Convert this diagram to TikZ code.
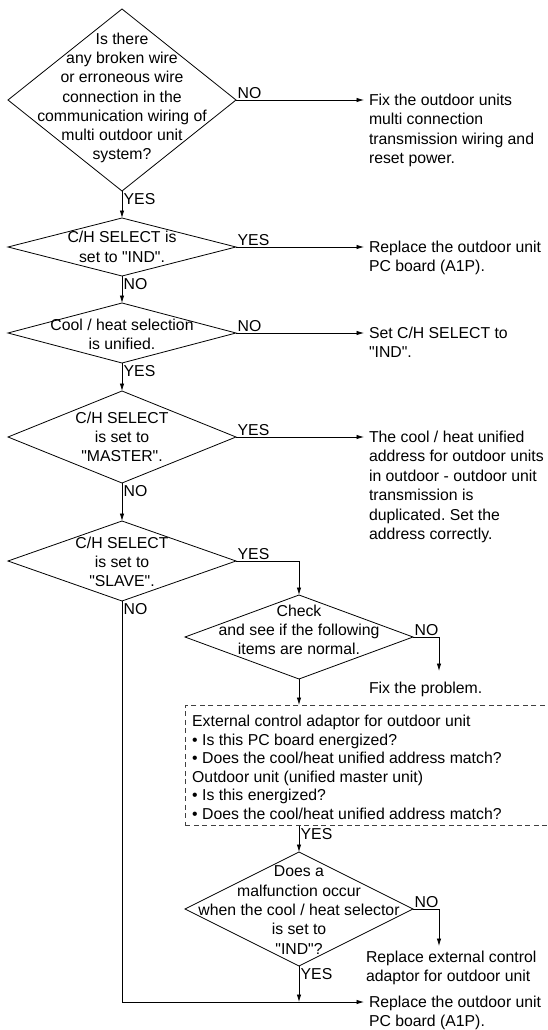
\documentclass[tikz,border=0pt]{standalone}
\usepackage{fontspec}
\setmainfont{Liberation Sans}[Ligatures=TeXOff]
\usetikzlibrary{shapes.geometric,arrows.meta}
\begin{document}
\frenchspacing
\begin{tikzpicture}[x=1pt,y=-1pt,
  every node/.style={font=\fontsize{15.8}{19.5}\selectfont},
  dia/.style={shape=diamond,draw,line width=0.8pt,inner sep=0pt,outer sep=0pt},
  dtext/.style={align=center,inner sep=0pt,font=\fontsize{15.8}{19.3}\selectfont},
  rtext/.style={align=left,anchor=north west,inner sep=0pt,outer xsep=5pt,outer ysep=0pt},
  lab/.style={inner sep=1.5pt},
  conn/.style={line width=0.8pt},
  arr/.style={conn,-{Latex[length=7.5pt,width=4.5pt]}},
  dbox/.style={draw=black!75,line width=0.8pt,dash pattern=on 5pt off 3.5pt,inner sep=0pt,anchor=north west}
]
\useasboundingbox (0,0) rectangle (547,1030);
\clip (0,0) rectangle (547,1030);
% D1
\node[dia,minimum width=228pt,minimum height=182pt] (d1) at (122,100) {};
\node[dtext] (d1t) at (122,98) {Is there\\any broken wire\\or erroneous wire\\connection in the\\communication wiring of\\multi outdoor unit\\system?};
\node[lab,anchor=south west] (l1e) at (d1.east) {NO};
\node[rtext] (r1) at (364,94) {Fix the outdoor units\\multi connection\\transmission wiring and\\reset power.};
\draw[arr] (d1.east) -- (d1.east -| r1.west);
\node[lab,anchor=north west] (l1s) at ([yshift=-1pt]d1.south) {YES};
% D2
\node[dia,minimum width=228pt,minimum height=58pt] (d2) at (122,247) {};
\node[dtext] (d2t) at (122,247) {C/H SELECT is\\set to "IND".};
\draw[arr] (d1.south) -- (d2.north);
\node[lab,anchor=south west] (l2e) at (d2.east) {YES};
\node[rtext] (r2) at (364,241) {Replace the outdoor unit\\PC board (A1P).};
\draw[arr] (d2.east) -- (d2.east -| r2.west);
\node[lab,anchor=north west] (l2s) at ([yshift=-1pt]d2.south) {NO};
% D3
\node[dia,minimum width=228pt,minimum height=60pt] (d3) at (122,333) {};
\node[dtext] (d3t) at (122,334) {Cool / heat selection\\is unified.};
\draw[arr] (d2.south) -- (d3.north);
\node[lab,anchor=south west] (l3e) at (d3.east) {NO};
\node[rtext] (r3) at (364,327) {Set C/H SELECT to\\"IND".};
\draw[arr] (d3.east) -- (d3.east -| r3.west);
\node[lab,anchor=north west] (l3s) at ([yshift=-1pt]d3.south) {YES};
% D4
\node[dia,minimum width=228pt,minimum height=92pt] (d4) at (122,437) {};
\node[dtext] (d4t) at (122,437) {C/H SELECT\\is set to\\"MASTER".};
\draw[arr] (d3.south) -- (d4.north);
\node[lab,anchor=south west] (l4e) at (d4.east) {YES};
\node[rtext] (r4) at (364,431) {The cool / heat unified\\address for outdoor units\\in outdoor - outdoor unit\\transmission is\\duplicated. Set the\\address correctly.};
\draw[arr] (d4.east) -- (d4.east -| r4.west);
\node[lab,anchor=north west] (l4s) at ([yshift=-1pt]d4.south) {NO};
% D5
\node[dia,minimum width=228pt,minimum height=80pt] (d5) at (122,561) {};
\node[dtext] (d5t) at (122,562) {C/H SELECT\\is set to\\"SLAVE".};
\draw[arr] (d4.south) -- (d5.north);
\node[lab,anchor=south west] (l5e) at (d5.east) {YES};
\node[lab,anchor=north west] (l5s) at ([yshift=-1pt]d5.south) {NO};
% D6
\node[dia,minimum width=228pt,minimum height=84pt] (d6) at (299,637) {};
\node[dtext] (d6t) at (299,630) {Check\\and see if the following\\items are normal.};
\draw[arr] (d5.east) -| (d6.north);
\node[lab,anchor=south west] (l6e) at (d6.east) {NO};
\coordinate (c6) at (439,637);
\node[rtext] (fp) at (364,682) {Fix the problem.};
\draw[arr] (d6.east) -- (c6) -- ([yshift=11pt]fp.north -| c6);
% dashed box (open to the right edge)
\node[dbox,minimum width=600pt,minimum height=120pt] (bx) at (185,705) {};
\node[align=left,anchor=north west,inner sep=0pt,font=\fontsize{15.8}{18.5}\selectfont] (bxt) at (192,715) {External control adaptor for outdoor unit\\%
\textbullet{} Is this PC board energized?\\%
\textbullet{} Does the cool/heat unified address match?\\%
Outdoor unit (unified master unit)\\%
\textbullet{} Is this energized?\\%
\textbullet{} Does the cool/heat unified address match?};
\coordinate (bxn) at (bx.north -| d6.south);
\draw[arr] (d6.south) -- (bxn);
% D7
\node[dia,minimum width=228pt,minimum height=114pt] (d7) at (299,909) {};
\node[dtext] (d7t) at (299,910) {Does a\\malfunction occur\\when the cool / heat selector\\is set to\\"IND"?};
\coordinate (bxs) at (bx.south -| d7.north);
\draw[arr] (bxs) -- (d7.north);
\node[lab,anchor=north west] (l7n) at ([yshift=-1pt]bxs) {YES};
\node[lab,anchor=south west] (l7e) at (d7.east) {NO};
\coordinate (c7) at (439,909);
\node[rtext] (r7) at (361,951) {Replace external control\\adaptor for outdoor unit};
\draw[arr] (d7.east) -- (c7) -- ([yshift=5pt]r7.north -| c7);
\node[lab,anchor=north west] (l7s) at ([yshift=-1pt]d7.south) {YES};
% bottom
\node[rtext] (r8) at (364,996) {Replace the outdoor unit\\PC board (A1P).};
\coordinate (cb) at (122,1002);
\coordinate (ce) at (364,1002);
\draw[arr] (d5.south) -- (cb) -- (ce);
\draw[arr] (d7.south) -- (d7.south |- cb);
\end{tikzpicture}
\end{document}
